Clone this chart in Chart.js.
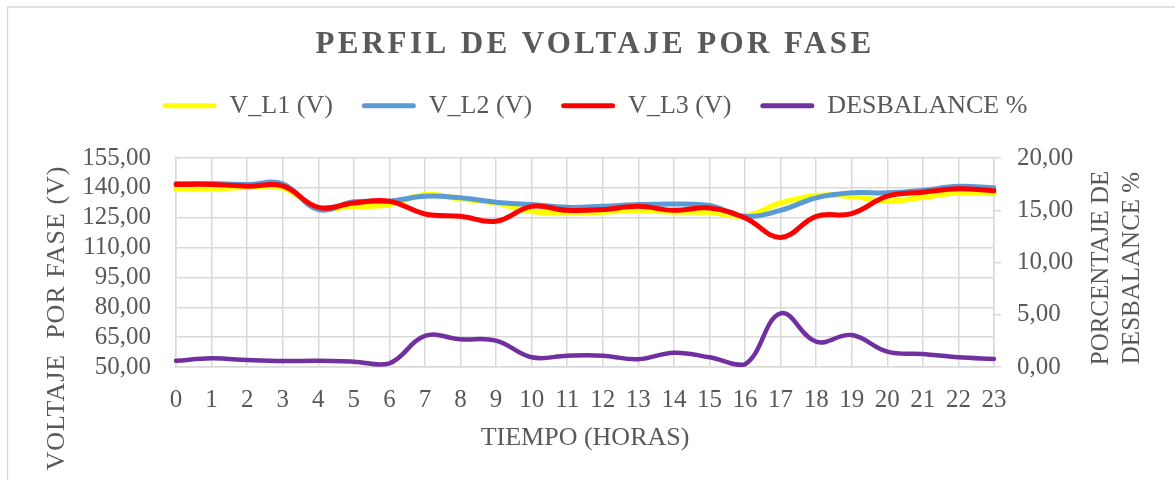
<!DOCTYPE html>
<html>
<head>
<meta charset="utf-8">
<script src="https://cdn.jsdelivr.net/npm/chart.js@4.4.1/dist/chart.umd.min.js"></script>
<style>
  html, body { margin: 0; padding: 0; background: #ffffff; }
  #wrap { position: relative; width: 1175px; height: 480px; }
</style>
</head>
<body>
<div id="wrap"><canvas id="c" width="1175" height="480"></canvas></div>
<script>
// ---- Data ----
const hours = ['0','1','2','3','4','5','6','7','8','9','10','11','12','13','14','15','16','17','18','19','20','21','22','23'];
const vL1 = [139.5, 139.5, 140.3, 140.0, 130.0, 130.7, 131.6, 136.6, 134.5, 132.4, 128.2, 127.4, 127.9, 128.7, 127.9, 127.7, 125.9, 132.4, 136.1, 135.8, 133.3, 135.3, 137.5, 137.2];
const vL2 = [142.2, 142.2, 141.7, 142.0, 129.1, 133.0, 133.3, 135.8, 135.0, 132.8, 131.6, 130.2, 130.7, 131.6, 131.9, 131.1, 125.7, 128.7, 135.0, 137.5, 137.5, 138.8, 140.8, 140.0];
const vL3 = [141.7, 141.7, 140.8, 141.0, 130.2, 132.4, 133.3, 126.9, 125.7, 123.2, 130.7, 128.7, 129.1, 130.7, 128.7, 129.9, 124.9, 115.1, 125.7, 127.1, 135.8, 137.8, 139.5, 138.6];
const desbalance = [0.60, 0.83, 0.67, 0.57, 0.60, 0.51, 0.35, 2.97, 2.65, 2.52, 0.93, 1.08, 1.08, 0.74, 1.37, 0.93, 0.25, 5.14, 2.42, 3.06, 1.47, 1.24, 0.93, 0.77];
const seriesNames = ['V_L1 (V)', 'V_L2 (V)', 'V_L3 (V)', 'DESBALANCE %'];
const leftTicks = { min: 50, max: 155, step: 15 };
const rightTicks = { min: 0, max: 20, step: 5 };
const chartTitle = 'PERFIL DE VOLTAJE POR FASE';
const xTitle = 'TIEMPO (HORAS)';
const leftTitle = 'VOLTAJE  POR FASE (V)';
const rightTitle = ['PORCENTAJE DE', 'DESBALANCE %'];

// ---- Styling ----
const TXT = '#595959';
const GRID = '#d9d9d9';
const SERIF = '"Liberation Serif", "Times New Roman", serif';
const fmt = v => Number(v).toFixed(2).replace('.', ',');

const frame = {
  id: 'frame',
  beforeDraw(chart) {
    const ctx = chart.ctx;
    ctx.save();
    ctx.fillStyle = '#ffffff';
    ctx.fillRect(0, 0, chart.width, chart.height);
    ctx.strokeStyle = GRID;
    ctx.lineWidth = 1.3;
    ctx.beginPath();
    ctx.moveTo(7.5, chart.height);
    ctx.lineTo(7.5, 7);
    ctx.lineTo(chart.width, 7);
    ctx.stroke();
    ctx.restore();
  },
  afterDraw(chart) {
    const ctx = chart.ctx;
    ctx.save();
    ctx.fillStyle = TXT;
    ctx.textAlign = 'center';
    ctx.textBaseline = 'middle';
    // left axis title
    ctx.font = '26px ' + SERIF;
    ctx.letterSpacing = '1px';
    ctx.save();
    ctx.translate(57, 318);
    ctx.rotate(-Math.PI / 2);
    ctx.fillText(leftTitle, 0, 0);
    ctx.restore();
    // right axis title (two lines)
    ctx.font = '25px ' + SERIF;
    ctx.letterSpacing = '0px';
    ctx.save();
    ctx.translate(1116.5, 268);
    ctx.rotate(-Math.PI / 2);
    ctx.fillText(rightTitle[0], 0, -15.5);
    ctx.fillText(rightTitle[1], 0, 15.5);
    ctx.restore();
    ctx.restore();
  }
};

const layoutTweaks = {
  id: 'layoutTweaks',
  beforeUpdate(chart) {
    const lg = chart.legend;
    if (lg && !lg._tweaked) {
      const f = lg.fit;
      lg.fit = function () { f.apply(this, arguments); this.height += 29.3; };
      lg._tweaked = true;
    }
    const tb = chart.titleBlock;
    if (tb && !tb._tweaked) {
      const d = tb.draw;
      tb.draw = function () {
        const c = this.ctx;
        const prev = c.letterSpacing;
        c.letterSpacing = '3.4px';
        d.apply(this, arguments);
        c.letterSpacing = prev;
      };
      tb._tweaked = true;
    }
  }
};

const lineDs = (label, data, color, order, width, axis) => ({
  label, data,
  borderColor: color,
  backgroundColor: color,
  borderWidth: width,
  pointRadius: 0,
  pointHoverRadius: 0,
  tension: 0.4,
  fill: false,
  order,
  yAxisID: axis,
  borderCapStyle: 'round',
  borderJoinStyle: 'round'
});

new Chart(document.getElementById('c'), {
  type: 'line',
  data: {
    labels: hours,
    datasets: [
      lineDs(seriesNames[0], vL1, '#ffff00', 4, 5.5, 'y'),
      lineDs(seriesNames[1], vL2, '#5b9bd5', 3, 5, 'y'),
      lineDs(seriesNames[2], vL3, '#ff0000', 2, 5, 'y'),
      lineDs(seriesNames[3], desbalance, '#7030a0', 1, 4.5, 'y1')
    ]
  },
  options: {
    responsive: false,
    animation: false,
    devicePixelRatio: 1,
    layout: { padding: { left: 15, right: 0, top: 0, bottom: 0 } },
    plugins: {
      title: {
        display: true,
        text: chartTitle,
        color: TXT,
        font: { family: SERIF, size: 31, weight: 'bold' },
        padding: { top: 26.5, bottom: 0 }
      },
      legend: {
        display: true,
        position: 'top',
        labels: {
          color: TXT,
          font: { family: SERIF, size: 26 },
          boxWidth: 54,
          boxHeight: 5,
          padding: 29,
          sort: (a, b) => a.datasetIndex - b.datasetIndex,
          generateLabels: (chart) => Chart.defaults.plugins.legend.labels.generateLabels(chart)
            .map(l => Object.assign({}, l, { lineWidth: 0, borderRadius: 2.5 }))
        }
      },
      tooltip: { enabled: false }
    },
    scales: {
      x: {
        type: 'category',
        offset: false,
        grid: { color: GRID, lineWidth: 1.5, drawTicks: false },
        border: { color: GRID, width: 1.5 },
        ticks: {
          color: TXT, font: { family: SERIF, size: 25 },
          padding: 18, maxRotation: 0, minRotation: 0, autoSkip: false
        },
        title: {
          display: true, text: xTitle, color: TXT,
          font: { family: SERIF, size: 26 },
          padding: { top: 0, bottom: 26.4 }
        },
        afterFit: s => { s.height = 113; }
      },
      y: {
        position: 'left',
        min: leftTicks.min, max: leftTicks.max,
        grid: { color: GRID, lineWidth: 1.5, drawTicks: false },
        border: { color: GRID, width: 1.5 },
        ticks: {
          stepSize: leftTicks.step, color: TXT, autoSkip: false,
          font: { family: SERIF, size: 25 }, padding: 25,
          callback: v => fmt(v)
        },
        afterFit: s => { s.width = 161; }
      },
      y1: {
        position: 'right',
        min: rightTicks.min, max: rightTicks.max,
        grid: { drawOnChartArea: false, color: GRID, lineWidth: 1.5, tickLength: 7, drawTicks: true },
        border: { color: GRID, width: 1.5 },
        ticks: {
          stepSize: rightTicks.step, color: TXT, autoSkip: false,
          font: { family: SERIF, size: 25 }, padding: 16,
          callback: v => fmt(v)
        },
        afterFit: s => { s.width = 181; }
      }
    }
  },
  plugins: [frame, layoutTweaks]
});
</script>
</body>
</html>
